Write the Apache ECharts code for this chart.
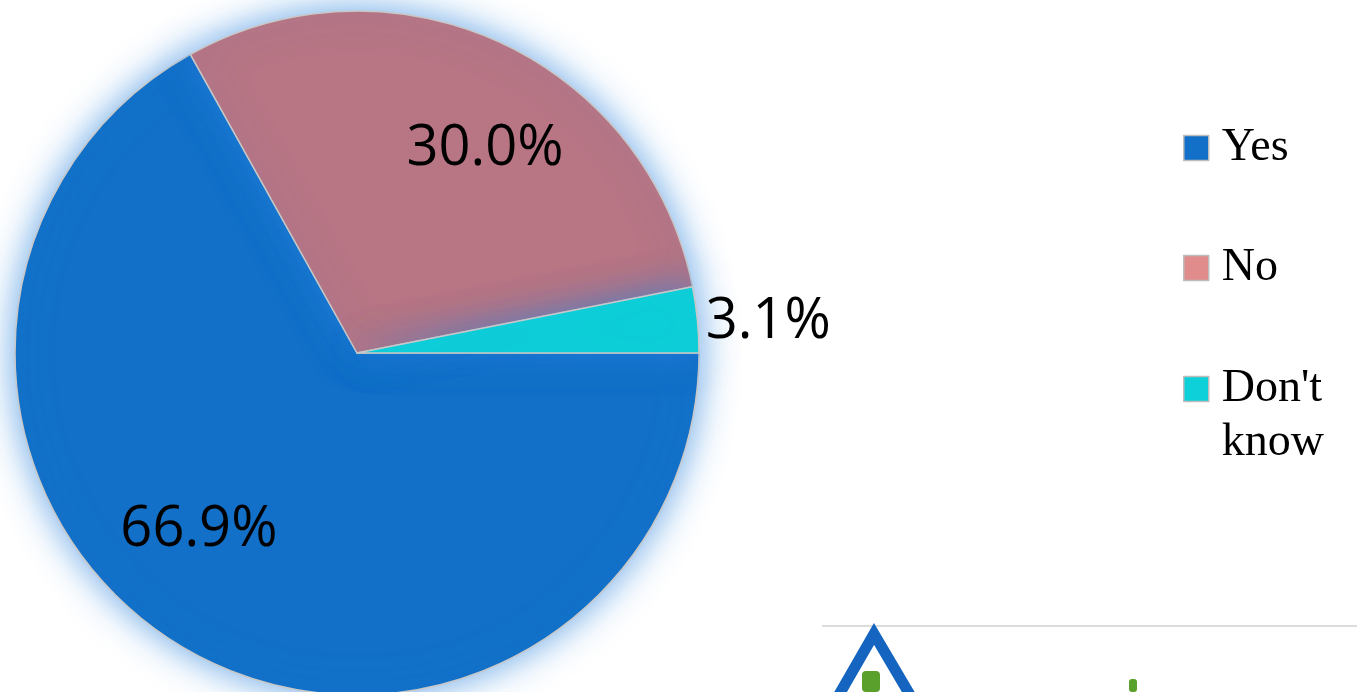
<!DOCTYPE html>
<html>
<head>
<meta charset="utf-8">
<script src="https://cdn.jsdelivr.net/npm/echarts@6/dist/echarts.min.js"></script>
<style>
html, body { margin: 0; padding: 0; background: #fff; }
#main { width: 1357px; height: 692px; }
</style>
</head>
<body>
<div id="main"></div>
<script>
// answers and their shares (%)
var answers = ['Yes', 'No', "Don't know"];
var shares = [66.9, 30.0, 3.1];
var sliceColors = ['#1270c8', '#b87584', '#0dd0d8'];
var legendColors = ['#1270c8', '#e08c8c', '#0dd0d8'];
// where each percent label sits, relative to the slice middle
var labelOffsets = [[-70, 27], [55, -46], [238, -14]];

var myChart = echarts.init(document.getElementById('main'));

var pieData = answers.map(function (name, i) {
    return {
        name: name,
        value: shares[i],
        itemStyle: { color: sliceColors[i] },
        label: { offset: labelOffsets[i] }
    };
});

function legendItems(from, to) {
    return answers.slice(from, to).map(function (name, k) {
        return { name: name, itemStyle: { color: legendColors[from + k] } };
    });
}

var legendBase = {
    orient: 'vertical',
    left: 1178,
    itemWidth: 25,
    itemHeight: 25,
    itemGap: 66,
    icon: 'rect',
    selectedMode: false,
    itemStyle: { borderColor: '#bdbdbd', borderWidth: 1.5 },
    // two-word answers wrap; a leading empty line keeps the icon on the first word
    formatter: function (name) {
        return name.indexOf(' ') >= 0 ? '\n' + name.replace(' ', '\n') : name;
    },
    textStyle: {
        fontFamily: 'Liberation Serif',
        fontSize: 46,
        lineHeight: 54,
        padding: [0, 0, 0, 8],
        color: '#000'
    }
};

var option = {
    backgroundColor: '#ffffff',
    animation: false,
    legend: [
        Object.assign({}, legendBase, { top: 116, data: legendItems(0, 2) }),
        Object.assign({}, legendBase, { top: 303, data: legendItems(2, 3) })
    ],
    series: [{
        type: 'pie',
        center: [357, 353],
        radius: 342,
        startAngle: 0,
        clockwise: true,
        itemStyle: {
            borderColor: '#c8c8c8',
            borderWidth: 1.5,
            shadowBlur: 36,
            shadowColor: 'rgba(40,130,220,0.7)'
        },
        label: {
            position: 'inside',
            formatter: function (p) { return p.value.toFixed(1) + '%'; },
            fontFamily: 'Open Sans',
            fontSize: 56,
            color: '#000'
        },
        labelLine: { show: false },
        emphasis: { disabled: true },
        data: pieData
    }],
    graphic: [
        { type: 'line', shape: { x1: 822, y1: 626, x2: 1357, y2: 626 },
          style: { stroke: '#dcdcdc', lineWidth: 2 } },
        { type: 'polyline', shape: { points: [[836, 700], [874, 634], [913, 700]] },
          style: { stroke: '#1565c0', lineWidth: 11, fill: null } },
        { type: 'rect', shape: { x: 862, y: 671, width: 18, height: 21, r: 4 },
          style: { fill: '#5aa02c' } },
        { type: 'rect', shape: { x: 1129, y: 679, width: 8, height: 13, r: 3 },
          style: { fill: '#5aa02c' } }
    ]
};

myChart.setOption(option);
</script>
</body>
</html>
